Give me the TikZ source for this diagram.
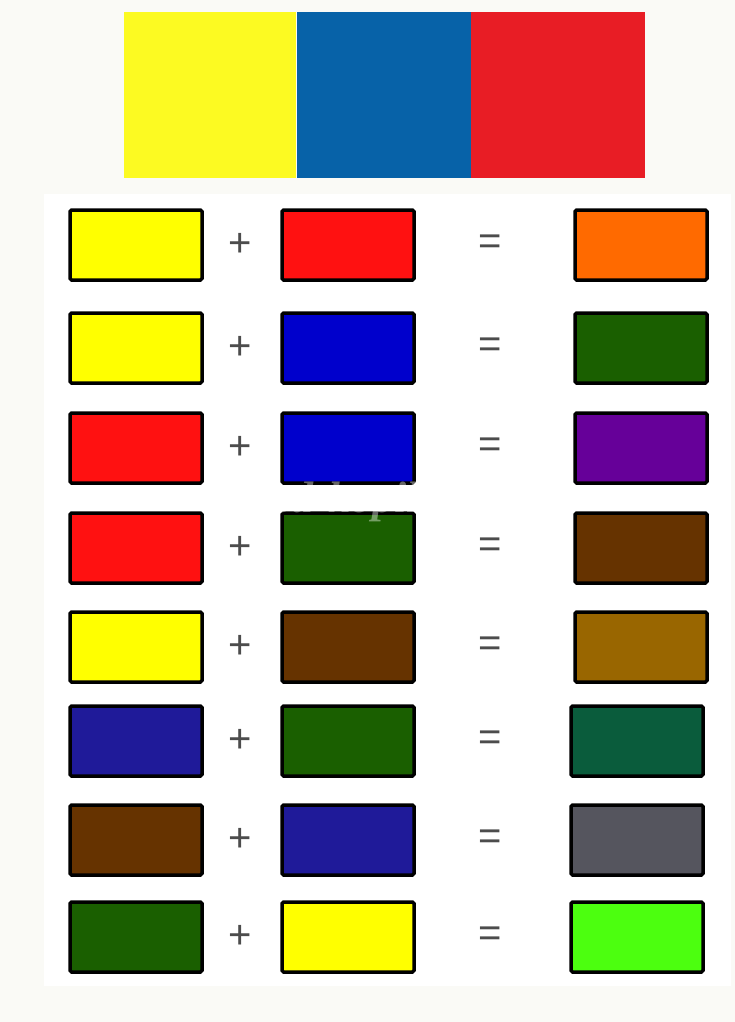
\documentclass[tikz,border=0pt]{standalone}
\usepackage{fontspec}
\setmainfont{Liberation Sans}
\newfontfamily\markfont{Liberation Serif}
\usetikzlibrary{positioning}
\definecolor{paper}{RGB}{250,250,246}
\definecolor{tyellow}{RGB}{252,250,34}
\definecolor{tblue}{RGB}{7,98,168}
\definecolor{tred}{RGB}{232,29,37}
\definecolor{cyel}{RGB}{255,255,0}
\definecolor{cred}{RGB}{255,17,17}
\definecolor{cblue}{RGB}{0,0,204}
\definecolor{cgreen}{RGB}{26,95,0}
\definecolor{cpurple}{RGB}{102,0,153}
\definecolor{cbrown}{RGB}{102,51,0}
\definecolor{cochre}{RGB}{153,102,0}
\definecolor{cnavy}{RGB}{31,26,153}
\definecolor{cteal}{RGB}{10,92,60}
\definecolor{cgrey}{RGB}{85,85,94}
\definecolor{clime}{RGB}{76,255,15}
\definecolor{corange}{RGB}{255,106,0}
\tikzset{
  swatch/.style={draw=black,line width=3.5pt,rounded corners=1.5pt,inner sep=0pt,
    minimum width=132pt,minimum height=70pt},
  bar/.style={inner sep=0pt,minimum height=166pt},
  sign/.style={font=\fontsize{40}{42}\selectfont,text=black!70}
}
\begin{document}
\begin{tikzpicture}[x=1pt,y=1pt]
  \fill[paper] (0,0) rectangle (735,-1022);
  \useasboundingbox (0,0) rectangle (735,-1022);
  \fill[white] (44,-194) rectangle (731,-986);
  % primary colours
  \node[bar,fill=tyellow,minimum width=172pt,anchor=north west] (ybar) at (124,-12) {};
  \node[bar,fill=tblue,minimum width=174pt,right=0pt of ybar] (bbar) {};
  \node[bar,fill=tred,minimum width=174pt,right=0pt of bbar] (rbar) {};
  % mixing rows
  \foreach \y/\a/\b/\c/\rx [count=\i] in {245/cyel/cred/corange/641,
      348/cyel/cblue/cgreen/641, 448/cred/cblue/cpurple/641,
      548/cred/cgreen/cbrown/641, 647/cyel/cbrown/cochre/641,
      741/cnavy/cgreen/cteal/637, 840/cbrown/cnavy/cgrey/637,
      937/cgreen/cyel/clime/637}{
    \node[swatch,fill=\a] (a\i) at (136,-\y) {};
    \node[sign] (p\i) at (240,-\y) {+};
    \node[swatch,fill=\b] (b\i) at (348,-\y) {};
    \node[sign] (e\i) at (490,-\y) {=};
    \node[swatch,fill=\c] (c\i) at (\rx,-\y) {};
  }
  \node[font=\markfont\fontsize{44}{44}\selectfont\itshape\bfseries,text=white,opacity=0.4]
    (mark) at (383,-502) {ped-kopilka.ru};
\end{tikzpicture}
\end{document}
